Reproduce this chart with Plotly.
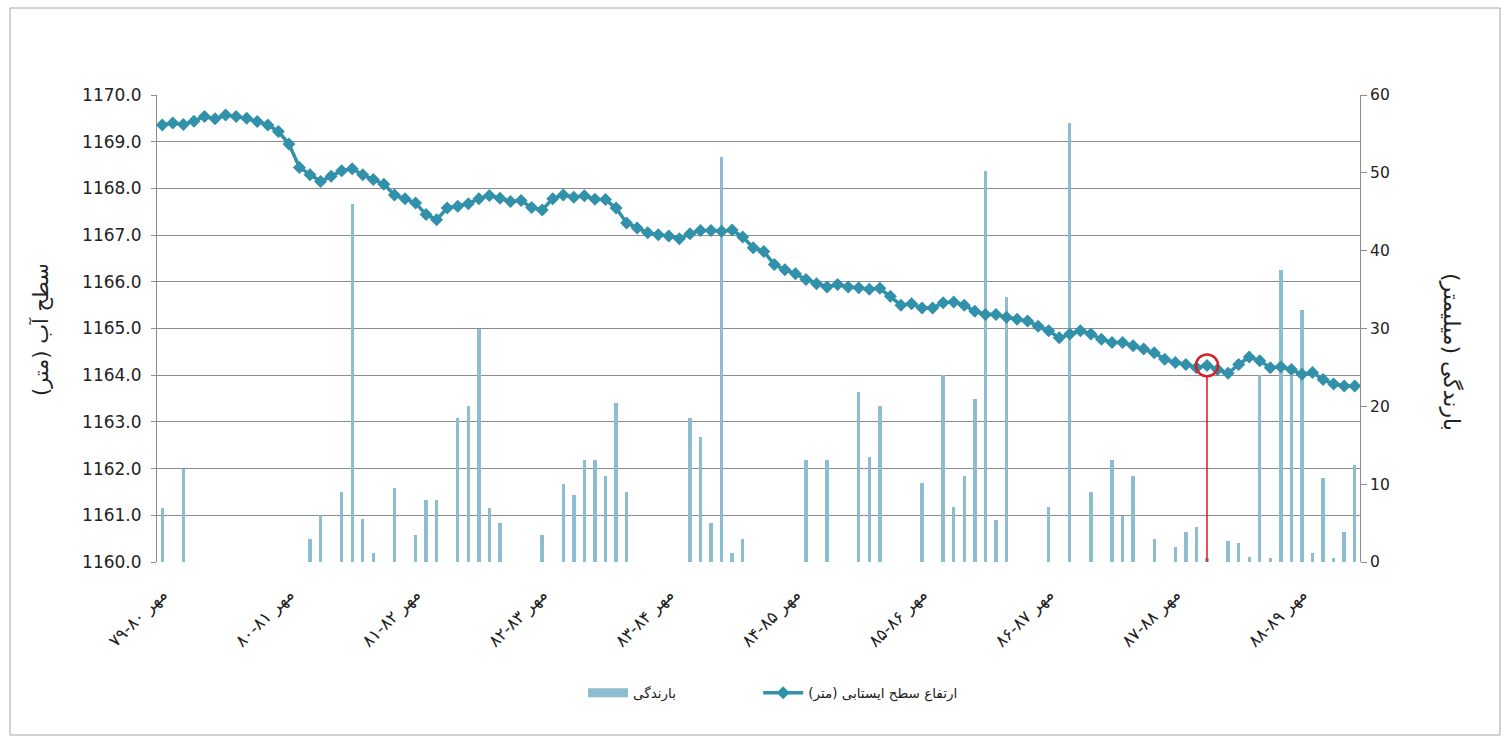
import plotly.graph_objects as go

# Monthly rainfall (mm), water years 79-80 .. 88-89, starting at Mehr 79
rainfall = [
    7, 0, 12, 0, 0, 0, 0, 0, 0, 0, 0, 0,
    0, 0, 3, 6, 0, 9, 46, 5.5, 1.1, 0, 9.5, 0,
    3.5, 8, 8, 0, 18.5, 20, 30, 7, 5, 0, 0, 0,
    3.5, 0, 10, 8.6, 13.1, 13.1, 11, 20.4, 9, 0, 0, 0,
    0, 0, 18.5, 16.1, 5, 52, 1.1, 3, 0, 0, 0, 0,
    0, 13.1, 0, 13.1, 0, 0, 21.9, 13.5, 20, 0, 0, 0,
    10.1, 0, 24, 7.1, 11, 21, 50.2, 5.4, 34, 0, 0, 0,
    7.1, 0, 56.4, 0, 9, 0, 13.1, 5.9, 11, 0, 2.9, 0,
    1.9, 3.9, 4.5, 0.5, 0, 2.7, 2.4, 0.7, 24, 0.5, 37.5, 24,
    32.4, 1.1, 10.8, 0.5, 3.9, 12.5,
]

# Monthly water-table elevation (m)
water_level = [
    1169.36, 1169.40, 1169.37, 1169.44, 1169.54, 1169.49, 1169.57, 1169.54, 1169.50, 1169.43, 1169.36, 1169.22,
    1168.95, 1168.45, 1168.29, 1168.15, 1168.26, 1168.38, 1168.42, 1168.29, 1168.19, 1168.09, 1167.86, 1167.78,
    1167.69, 1167.44, 1167.33, 1167.58, 1167.62, 1167.67, 1167.78, 1167.85, 1167.79, 1167.72, 1167.74, 1167.59,
    1167.54, 1167.78, 1167.86, 1167.81, 1167.84, 1167.77, 1167.76, 1167.58, 1167.26, 1167.15, 1167.05, 1167.01,
    1166.98, 1166.92, 1167.03, 1167.10, 1167.10, 1167.08, 1167.11, 1166.96, 1166.73, 1166.65, 1166.37, 1166.26,
    1166.17, 1166.05, 1165.96, 1165.89, 1165.94, 1165.89, 1165.87, 1165.84, 1165.86, 1165.69, 1165.50, 1165.53,
    1165.44, 1165.44, 1165.55, 1165.57, 1165.50, 1165.37, 1165.30, 1165.30, 1165.24, 1165.20, 1165.16, 1165.05,
    1164.95, 1164.80, 1164.88, 1164.95, 1164.88, 1164.77, 1164.70, 1164.70, 1164.63, 1164.56, 1164.48, 1164.34,
    1164.27, 1164.23, 1164.16, 1164.21, 1164.12, 1164.04, 1164.23, 1164.39, 1164.31, 1164.16, 1164.18, 1164.12,
    1164.02, 1164.06, 1163.91, 1163.81, 1163.77, 1163.77,
]

month_names = ["مهر", "آبان", "آذر", "دی", "بهمن", "اسفند",
               "فروردین", "اردیبهشت", "خرداد", "تیر", "مرداد", "شهریور"]

# water-year ranges shown under each Mehr tick
water_years = ["۷۹-۸۰", "۸۰-۸۱", "۸۱-۸۲", "۸۲-۸۳", "۸۳-۸۴",
               "۸۴-۸۵", "۸۵-۸۶", "۸۶-۸۷", "۸۷-۸۸", "۸۸-۸۹"]

highlight_index = 99  # highlighted month on the water-level curve

FA_DIGITS = str.maketrans("0123456789", "۰۱۲۳۴۵۶۷۸۹")
LRM = "\u200e"


def month_label(i, start_year=79):
    year = start_year + i // 12 + (1 if i % 12 >= 6 else 0)
    return f"{month_names[i % 12]} {str(year).translate(FA_DIGITS)}"


categories = [month_label(i) for i in range(len(water_level))]
# the LRM keeps the year range in reading order next to the month name
tick_text = [f"{LRM}{wy} {month_names[0]}" for wy in water_years]

W, H = 1511, 743
M_L, M_R, M_T, M_B = 157, 151, 95, 181
plot_w = W - M_L - M_R
plot_h = H - M_T - M_B

LINE_COLOR = "#3190aa"
BAR_COLOR = "#8dbdd1"
GRID_COLOR = "#8c8c8c"
AXIS_COLOR = "#8c8c8c"
TEXT_COLOR = "#222222"
FONT = "DejaVu Sans"
NBSP = "\u00a0"

fig = go.Figure()

fig.add_trace(go.Bar(
    x=categories, y=rainfall, yaxis="y",
    marker=dict(color=BAR_COLOR, line=dict(width=0)),
    width=0.32, name="بارندگی", showlegend=False,
))

# legend entry drawn as a wide swatch for the rainfall bars
fig.add_trace(go.Scatter(
    x=[None], y=[None], yaxis="y", mode="lines",
    line=dict(color=BAR_COLOR, width=9), name="بارندگی" + NBSP * 18,
))

fig.add_trace(go.Scatter(
    x=categories, y=water_level, yaxis="y2", mode="lines+markers",
    line=dict(color=LINE_COLOR, width=3.5),
    marker=dict(symbol="diamond", size=10, color=LINE_COLOR),
    name="ارتفاع سطح ایستابی (متر)",
))

# circle around the highlighted month and its drop line to the axis
circle_px = 22
px_per_m = plot_h / 10.0
hx = categories[highlight_index]
hy = water_level[highlight_index]
fig.add_trace(go.Scatter(
    x=[hx], y=[hy], yaxis="y2", mode="markers",
    marker=dict(symbol="circle-open", size=circle_px, color="#d42028",
                line=dict(width=2.5, color="#d42028")),
    showlegend=False, hoverinfo="skip",
))
fig.add_shape(type="line", xref="x", yref="y2",
              x0=hx, x1=hx, y0=1160, y1=hy - (circle_px / 2) / px_per_m,
              line=dict(color="#e0141e", width=1.5))

fig.update_layout(
    width=W, height=H,
    margin=dict(l=M_L, r=M_R, t=M_T, b=M_B),
    paper_bgcolor="white", plot_bgcolor="white",
    font=dict(family=FONT, color=TEXT_COLOR),
    bargap=0,
    xaxis=dict(
        type="category", categoryorder="array", categoryarray=categories,
        range=[-0.5, len(categories) - 0.5],
        tickmode="array", tickvals=categories[::12], ticktext=tick_text,
        tickangle=-45, tickfont=dict(size=17, color=TEXT_COLOR),
        ticklabelstandoff=18,
        showgrid=False, showline=False, ticks="", zeroline=False,
    ),
    yaxis=dict(
        side="right", range=[0, 60], dtick=10, tickformat="d",
        showgrid=False, zeroline=False,
        showline=True, linecolor=AXIS_COLOR, linewidth=1,
        ticks="outside", ticklen=6, tickcolor=AXIS_COLOR,
        tickfont=dict(size=15.5, color=TEXT_COLOR),
    ),
    yaxis2=dict(
        overlaying="y", side="left", range=[1160, 1170], dtick=1, tickformat=".1f",
        showgrid=True, gridcolor=GRID_COLOR, gridwidth=1, zeroline=False,
        showline=True, linecolor=AXIS_COLOR, linewidth=1,
        ticks="outside", ticklen=5, tickcolor=AXIS_COLOR,
        ticklabelstandoff=6,
        tickfont=dict(size=17, color=TEXT_COLOR),
    ),
    legend=dict(
        orientation="h", x=(773 - M_L) / plot_w, xanchor="center",
        y=(H - M_B - 693) / plot_h, yanchor="middle",
        font=dict(size=13.5, color=TEXT_COLOR),
        itemwidth=40, traceorder="normal",
    ),
    showlegend=True,
)

# axis titles
fig.add_annotation(
    text="سطح آب (متر)", xref="paper", yref="paper",
    x=(40 - M_L) / plot_w, y=(H - M_B - 330) / plot_h,
    xanchor="center", yanchor="middle",
    textangle=-90, showarrow=False, font=dict(size=21, color=TEXT_COLOR),
)
fig.add_annotation(
    text="بارندگی (میلیمتر)", xref="paper", yref="paper",
    x=(1451 - M_L) / plot_w, y=(H - M_B - 352) / plot_h,
    xanchor="center", yanchor="middle",
    textangle=90, showarrow=False, font=dict(size=22, color=TEXT_COLOR),
)

# outer chart frame
fig.add_shape(
    type="rect", xref="paper", yref="paper", layer="below",
    x0=(10 - M_L) / plot_w, x1=(1500 - M_L) / plot_w,
    y0=(H - M_B - 735) / plot_h, y1=(H - M_B - 8) / plot_h,
    line=dict(color="#a6a6a6", width=1),
)

fig.write_html("out.html", config={"displayModeBar": False})
